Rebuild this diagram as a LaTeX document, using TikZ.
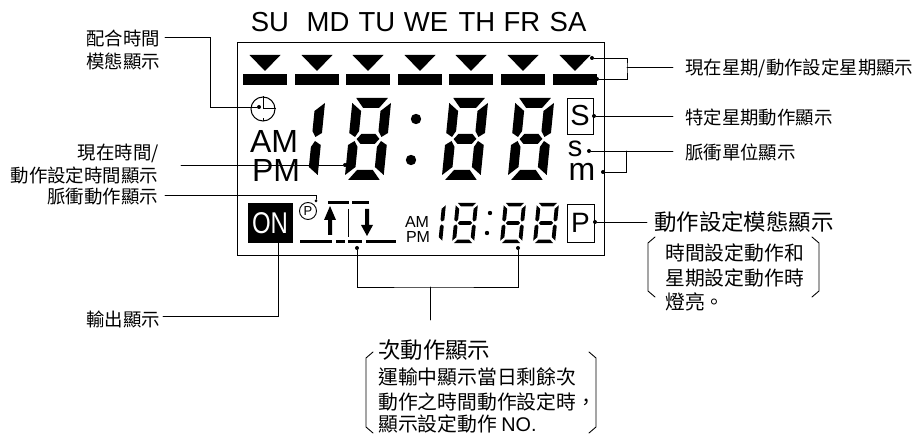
\documentclass[tikz,border=0pt]{standalone}
\usepackage{graphicx}
\usepackage{fontspec}
\setmainfont{Liberation Sans}
\newfontfamily\cjk{Noto Sans CJK TC}
\newcommand{\fsz}[1]{\fontsize{#1}{#1}\selectfont}
\newcommand{\lcdright}{%
  \fill (22,-36)--(11,-28)--(11,-8)--(15,-2)--(22,-6)--cycle;
  \fill (22,36)--(11,28)--(11,8)--(15,2)--(22,6)--cycle;
}
\newcommand{\lcdeight}{%
  \lcdright
  \fill (-22,-36)--(-11,-28)--(-11,-8)--(-15,-2)--(-22,-6)--cycle;
  \fill (-22,36)--(-11,28)--(-11,8)--(-15,2)--(-22,6)--cycle;
  \fill (-18,-41)--(18,-41)--(9,-31)--(-9,-31)--cycle;
  \fill (-18,41)--(18,41)--(9,31)--(-9,31)--cycle;
  \fill (-13,0)--(-8,-5)--(8,-5)--(13,0)--(8,5)--(-8,5)--cycle;
}
\newcommand{\lcdrightthin}{%
  \fill (23,-36)--(15,-29)--(15,-7)--(18,-3)--(23,-6)--cycle;
  \fill (23,36)--(15,29)--(15,7)--(18,3)--(23,6)--cycle;
}
\newcommand{\lcdeightthin}{%
  \lcdrightthin
  \fill (-23,-36)--(-15,-29)--(-15,-7)--(-18,-3)--(-23,-6)--cycle;
  \fill (-23,36)--(-15,29)--(-15,7)--(-18,3)--(-23,6)--cycle;
  \fill (-19,-41)--(19,-41)--(12,-34)--(-12,-34)--cycle;
  \fill (-19,41)--(19,41)--(12,34)--(-12,34)--cycle;
  \fill (-15,0)--(-11,-4)--(11,-4)--(15,0)--(11,4)--(-11,4)--cycle;
}
\tikzset{
  x=1pt,y=-1pt,
  leader/.style={line width=0.9pt,line cap=round,line join=miter},
  dotmark/.style={circle,fill=black,inner sep=0pt,minimum size=4pt},
  labelr/.style={font=\cjk\fsz{18.4},anchor=east,inner sep=0pt},
  labell/.style={font=\cjk\fsz{18.4},anchor=west,inner sep=0pt},
  labelbig/.style={font=\cjk\fsz{22.4},anchor=west,inner sep=0pt},
  labelmid/.style={font=\cjk\fsz{19.8},anchor=west,inner sep=0pt},
  dayname/.style={font=\fsz{27.5},inner sep=0pt},
  lcdtext/.style={inner sep=0pt},
  lcdbox/.style={draw,line width=0.9pt},
  tri/.style={fill=black},
  bigdig/.style={shift={(#1,139)},xslant=.1,xscale=.88,yscale=1.0},
  smalldig/.style={shift={(#1,223)},xslant=.1,xscale=.48,yscale=.49},
}
\begin{document}
\begin{tikzpicture}
\useasboundingbox (0,0) rectangle (914,438);
% day names
\foreach \n/\t/\xx in {dsu/SU/270,dmo/MD/328,dtu/TU/377,dwe/WE/426,dth/TH/477,dfr/FR/522,dsa/SA/568}
  \node[dayname] (\n) at (\xx,22) {\t};
% frame
\draw[line width=1pt] (237,43) rectangle (604,256);
% triangles and bars
\foreach \xx in {265,317,368,420,471,523,575}{
  \fill[tri] (\xx-15.5,55)--(\xx+15.5,55)--(\xx,71)--cycle;
  \fill (\xx-22,74) rectangle (\xx+21.5,85);
}
% clock
\node[circle,draw,line width=1pt,minimum size=24pt,inner sep=0pt] (clock) at (263,109) {};
\draw[line width=1pt] (clock.north)--(clock.center)--(clock.east);
\draw[line width=1pt] (clock.south)--+(0,-3);
% big AM PM
\node[lcdtext,font=\fsz{32}] (am) at (274,141) {AM};
\node[lcdtext,font=\fsz{32}] (pm) at (276,170) {PM};
% big digits
\begin{scope}[bigdig=302]\lcdright\end{scope}
\begin{scope}[bigdig=368]\lcdeight\end{scope}
\begin{scope}[bigdig=465]\lcdeight\end{scope}
\begin{scope}[bigdig=531]\lcdeight\end{scope}
\fill (416,119) circle (5.2);
\fill (411,160) circle (5.2);
% S box, s, m
\node[lcdbox,minimum width=26pt,minimum height=36pt,inner sep=0pt,font=\fsz{29}] (sbox) at (580,116) {S};
\node[lcdtext,font=\fsz{29},anchor=base] (sunit) at (575,157) {s};
\node[lcdtext,font=\fsz{32},anchor=base] (munit) at (582,181) {m};
% ON
\node[fill=black,text=white,minimum width=45pt,minimum height=40pt,inner sep=0pt,font=\fsz{30}] (onbox) at (270,223) {\scalebox{.8}[1]{ON}};
% P circle
\node[circle,draw,line width=.9pt,minimum size=17pt,inner sep=0pt,font=\fsz{13}] (pcirc) at (308,211) {P};
% pulse symbol
\fill (328,201.5) rectangle (349,204.5);
\fill (352,201.5) rectangle (369,204.5);
\fill (300,240.5) rectangle (332,243.5);
\fill (336,240.5) rectangle (345,243.5);
\fill (348,240.5) rectangle (362,243.5);
\fill (366,240.5) rectangle (396,243.5);
\draw[line width=1pt] (348,209)--(348,237);
\fill (330,206)--(336,220)--(332,220)--(332,235)--(328,235)--(328,220)--(324,220)--cycle;
\fill (367,236)--(373,225)--(369,225)--(369,209)--(365,209)--(365,225)--(361,225)--cycle;
% small AM PM
\node[lcdtext,font=\fsz{16}] (sam) at (417,222) {AM};
\node[lcdtext,font=\fsz{16}] (spm) at (418,237) {PM};
% small digits
\begin{scope}[smalldig=433]\lcdrightthin\end{scope}
\begin{scope}[smalldig=465]\lcdeightthin\end{scope}
\begin{scope}[smalldig=513]\lcdeightthin\end{scope}
\begin{scope}[smalldig=546]\lcdeightthin\end{scope}
\fill (490,213) circle (2.2);
\fill (487,233) circle (2.2);
% P box
\node[lcdbox,minimum width=27pt,minimum height=38pt,inner sep=0pt,font=\fsz{28}] (pbox) at (580.5,223) {P};
% left labels
\node[labelr] (l1a) at (160,38) {配合時間};
\node[labelr] (l1b) at (160,61) {模態顯示};
\node[labelr] (l2a) at (159,153) {現在時間/};
\node[labelr] (l2b) at (158,175) {動作設定時間顯示};
\node[labelr] (l3) at (158,197) {脈衝動作顯示};
\node[labelr] (l4) at (160,319) {輸出顯示};
% right labels
\node[labell] (r1) at (685,68) {現在星期/動作設定星期顯示};
\node[labell] (r2) at (685,117) {特定星期動作顯示};
\node[labell] (r3) at (685,152) {脈衝單位顯示};
\node[labelbig] (r4) at (654,222) {動作設定模態顯示};
\node[labelmid] (r5a) at (665,253) {時間設定動作和};
\node[labelmid] (r5b) at (665,278) {星期設定動作時};
\node[labelmid] (r5c) at (665,302) {燈亮。};
% bottom label
\node[labelbig] (b0) at (378,350) {次動作顯示};
\node[labelmid] (b1) at (378,377) {運輸中顯示當日剩餘次};
\node[labelmid] (b2) at (378,402) {動作之時間動作設定時，};
\node[labelmid] (b3) at (378,424) {顯示設定動作 {\rmfamily NO.}};
% brackets
\draw[leader] (655,237)--(648,243)--(648,291)--(655,297);
\draw[leader] (812,237)--(819,243)--(819,291)--(812,297);
\draw[leader] (373,352)--(366,358)--(366,427)--(373,433);
\draw[leader] (589,352)--(596,358)--(596,427)--(589,433);
% leader anchor points
\node[dotmark] (p1) at (259,107) {};
\node[dotmark] (p2) at (345,165) {};
\node[dotmark,minimum size=3pt] (p3) at (316,201) {};
\node[dotmark] (p5) at (592,58) {};
\node[dotmark] (p6) at (597,79) {};
\node[dotmark] (p7) at (594,116) {};
\node[dotmark] (p8) at (589,151) {};
\node[dotmark] (p9) at (603,172) {};
\node[dotmark] (p10) at (595,222) {};
\node[dotmark] (p11) at (357,248) {};
\node[dotmark] (p12) at (518,248) {};
\coordinate (c1) at (165,37);
\coordinate (c2) at (181,165);
\coordinate (c3) at (165,195);
\coordinate (c4) at (163,316);
\coordinate (c5) at (627,67);
\coordinate (c6) at (673,67);
\coordinate (c7) at (673,116);
\coordinate (c8) at (673,151);
\coordinate (c9) at (647,222);
\coordinate (c10) at (430,287);
\coordinate (c11) at (430,320);
\coordinate (c12) at (278,243);
\draw[leader] (c1)-|(210,107)--(p1);
\draw[leader] (c2)--(p2);
\draw[leader] (c3)-|(p3);
\draw[leader] (c4)-|(c12);
\draw[leader] (p5)-|(c5)|-(p6);
\draw[leader] (c5)--(c6);
\draw[leader] (p7)--(c7);
\draw[leader] (p8)--(c8);
\draw[leader] (626,151)|-(p9);
\draw[leader] (p10)--(c9);
\draw[leader] (p11)|-(c10)-|(p12);
\draw[leader] (c10)--(c11);
\end{tikzpicture}
\end{document}
